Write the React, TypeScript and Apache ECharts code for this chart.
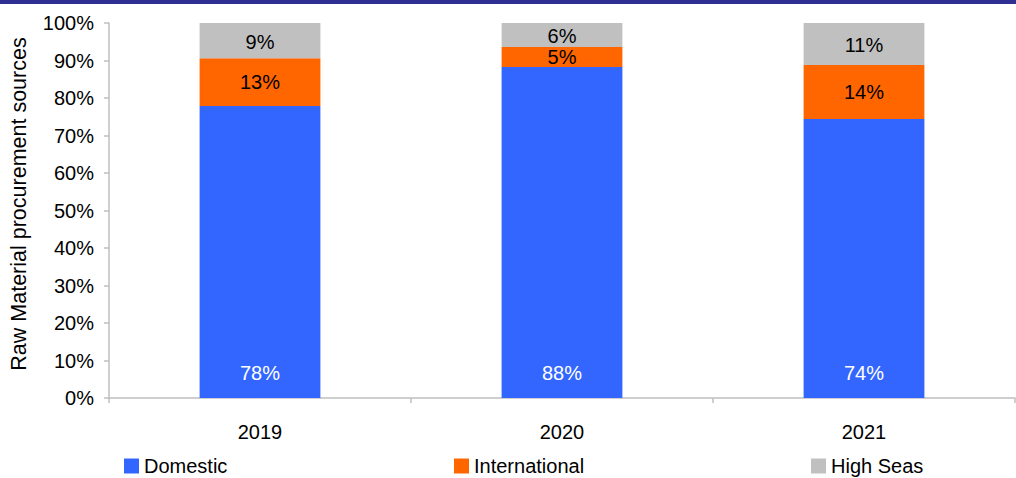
import React, { useEffect, useRef } from "react";
import * as echarts from "echarts";

const categories = ["2019", "2020", "2021"];
const domestic = [77.9, 88.3, 74.4];
const international = [12.7, 5.3, 14.4];
const highSeas = [9.4, 6.4, 11.2];
const yTicks = [0, 10, 20, 30, 40, 50, 60, 70, 80, 90, 100];
const yTitle = "Raw Material procurement sources";

const FONT = "Liberation Sans, Arial, Helvetica, sans-serif";

export default function App() {
  const ref = useRef<HTMLDivElement>(null);
  useEffect(() => {
    if (!ref.current) return;
    const chart = echarts.init(ref.current, undefined, { renderer: "svg" });
    const fmt = (p: any) => Math.round(p.value) + "%";
    const legendBase = {
      top: 456,
      padding: 0,
      icon: "rect",
      itemWidth: 15,
      itemHeight: 15,
      itemGap: 5,
      textStyle: { fontFamily: FONT, fontSize: 20, color: "#000" },
      selectedMode: false,
    };
    chart.setOption({
      animation: false,
      textStyle: { fontFamily: FONT },
      graphic: [
        { type: "rect", shape: { x: 0, y: 0, width: 1016, height: 4 }, style: { fill: "#2E3192" } },
        {
          type: "text",
          x: 19,
          y: 204,
          rotation: Math.PI / 2,
          style: {
            text: yTitle,
            fontFamily: FONT,
            fontSize: 21.5,
            fill: "#000",
            textAlign: "center",
            textVerticalAlign: "middle",
          },
        },
      ],
      grid: { left: 109, right: 1, top: 23, bottom: 80, containLabel: false },
      legend: [
        { ...legendBase, left: 124, data: ["Domestic"] },
        { ...legendBase, left: 454, data: ["International"] },
        { ...legendBase, left: 811, data: ["High Seas"] },
      ],
      xAxis: {
        type: "category",
        data: categories,
        axisLine: { lineStyle: { color: "#BFBFBF", width: 1.5 } },
        axisTick: { show: true, length: 5, lineStyle: { color: "#BFBFBF", width: 1.5 } },
        axisLabel: { fontSize: 20, color: "#000", margin: 24, fontFamily: FONT },
      },
      yAxis: {
        type: "value",
        min: 0,
        max: 100,
        interval: 10,
        axisLine: { show: true, lineStyle: { color: "#BFBFBF", width: 1.5 } },
        axisTick: { show: true, length: 5, lineStyle: { color: "#BFBFBF", width: 1.5 } },
        splitLine: { show: false },
        axisLabel: {
          fontSize: 20,
          color: "#000",
          margin: 15,
          fontFamily: FONT,
          formatter: (v: number) => (yTicks.includes(v) ? v + "%" : ""),
        },
      },
      series: [
        {
          name: "Domestic",
          type: "bar",
          stack: "s",
          data: domestic,
          barWidth: "40%",
          itemStyle: { color: "#3366FF" },
          label: {
            show: true,
            position: "insideBottom",
            distance: 15,
            color: "#fff",
            fontSize: 20,
            fontFamily: FONT,
            formatter: fmt,
          },
        },
        {
          name: "International",
          type: "bar",
          stack: "s",
          data: international,
          itemStyle: { color: "#FF6600" },
          label: { show: true, position: "inside", color: "#000", fontSize: 20, fontFamily: FONT, formatter: fmt },
        },
        {
          name: "High Seas",
          type: "bar",
          stack: "s",
          data: highSeas,
          itemStyle: { color: "#C0C0C0" },
          label: { show: true, position: "inside", offset: [0, 1], color: "#000", fontSize: 20, fontFamily: FONT, formatter: fmt },
        },
      ],
    });
    return () => chart.dispose();
  }, []);
  return (
    <div
      ref={ref}
      style={{ position: "fixed", left: 0, top: 0, width: 1016, height: 478, background: "#fff" }}
    />
  );
}
